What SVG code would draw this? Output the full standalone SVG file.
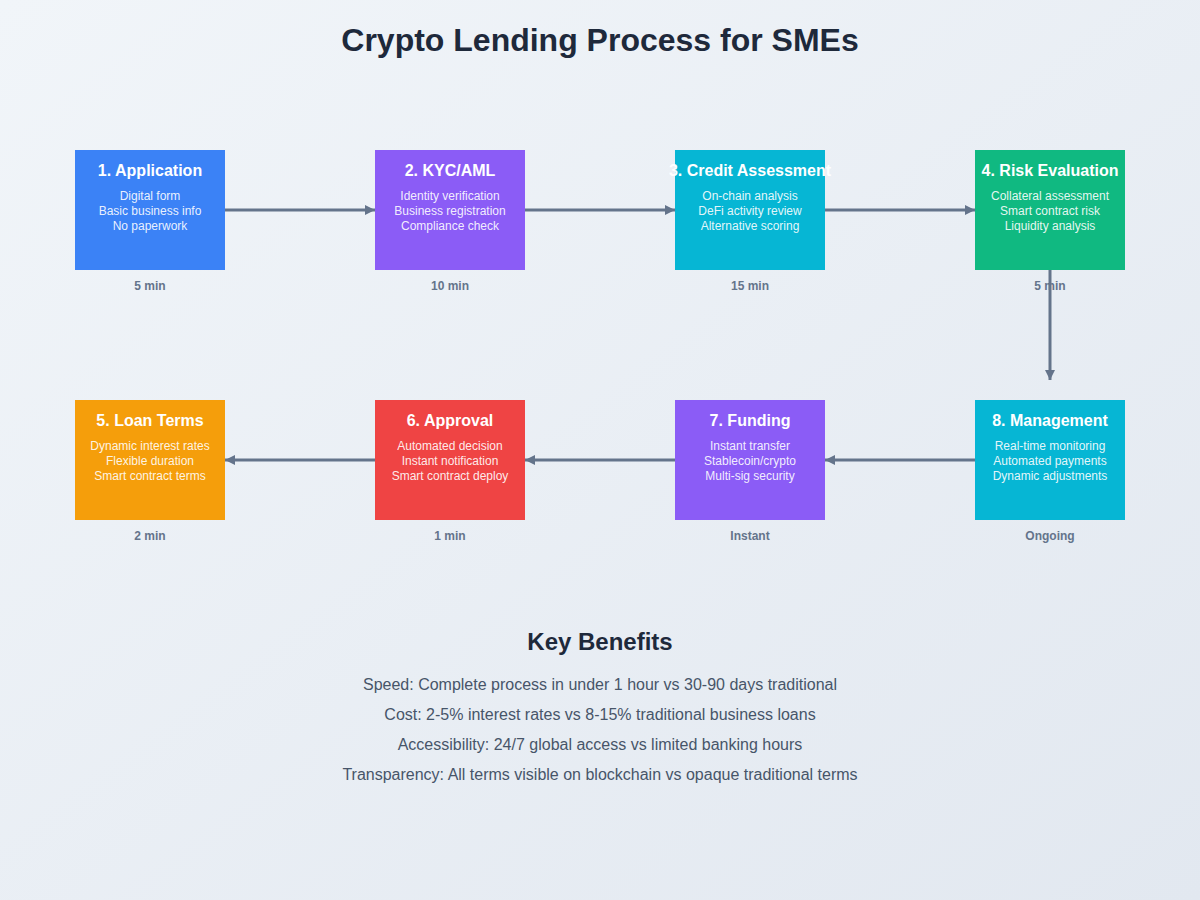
<svg xmlns="http://www.w3.org/2000/svg" width="1200" height="900" viewBox="0 0 1200 900">
<defs>
<linearGradient id="bg" x1="0" y1="0" x2="1" y2="1">
<stop offset="0" stop-color="#f1f5f9"/>
<stop offset="1" stop-color="#e2e8f0"/>
</linearGradient>
<marker id="arr" viewBox="0 0 10 10" refX="10" refY="5" markerWidth="10" markerHeight="10" markerUnits="userSpaceOnUse" orient="auto">
<path d="M0,0 L10,5 L0,10 z" fill="#64748b"/>
</marker>
</defs>
<style>
text{font-family:"Liberation Sans",Arial,sans-serif;text-anchor:middle}
.h{font-size:32px;font-weight:bold;fill:#1e293b}
.t{font-size:16px;font-weight:bold;fill:#ffffff}
.b{font-size:12px;fill:#ffffff;fill-opacity:0.9}
.m{font-size:12px;font-weight:bold;fill:#64748b}
.k{font-size:24px;font-weight:bold;fill:#1e293b}
.l{font-size:16px;fill:#475569}
.c{stroke:#64748b;stroke-width:3;fill:none;marker-end:url(#arr)}
</style>
<rect width="1200" height="900" fill="url(#bg)"/>
<text class="h" x="600" y="51">Crypto Lending Process for SMEs</text>
<g id="connectors">
<line class="c" x1="225" y1="210" x2="375" y2="210"/>
<line class="c" x1="525" y1="210" x2="675" y2="210"/>
<line class="c" x1="825" y1="210" x2="975" y2="210"/>
<line class="c" x1="1050" y1="270" x2="1050" y2="380"/>
<line class="c" x1="975" y1="460" x2="825" y2="460"/>
<line class="c" x1="675" y1="460" x2="525" y2="460"/>
<line class="c" x1="375" y1="460" x2="225" y2="460"/>
</g>
<g id="n1">
<rect x="75" y="150" width="150" height="120" fill="#3b82f6"/>
<text class="t" x="150" y="176">1. Application</text>
<text class="b" x="150" y="200">Digital form</text>
<text class="b" x="150" y="215">Basic business info</text>
<text class="b" x="150" y="230">No paperwork</text>
<text class="m" x="150" y="290">5 min</text>
</g>
<g id="n2">
<rect x="375" y="150" width="150" height="120" fill="#8b5cf6"/>
<text class="t" x="450" y="176">2. KYC/AML</text>
<text class="b" x="450" y="200">Identity verification</text>
<text class="b" x="450" y="215">Business registration</text>
<text class="b" x="450" y="230">Compliance check</text>
<text class="m" x="450" y="290">10 min</text>
</g>
<g id="n3">
<rect x="675" y="150" width="150" height="120" fill="#06b6d4"/>
<text class="t" x="750" y="176">3. Credit Assessment</text>
<text class="b" x="750" y="200">On-chain analysis</text>
<text class="b" x="750" y="215">DeFi activity review</text>
<text class="b" x="750" y="230">Alternative scoring</text>
<text class="m" x="750" y="290">15 min</text>
</g>
<g id="n4">
<rect x="975" y="150" width="150" height="120" fill="#10b981"/>
<text class="t" x="1050" y="176">4. Risk Evaluation</text>
<text class="b" x="1050" y="200">Collateral assessment</text>
<text class="b" x="1050" y="215">Smart contract risk</text>
<text class="b" x="1050" y="230">Liquidity analysis</text>
<text class="m" x="1050" y="290">5 min</text>
</g>
<g id="n5">
<rect x="75" y="400" width="150" height="120" fill="#f59e0b"/>
<text class="t" x="150" y="426">5. Loan Terms</text>
<text class="b" x="150" y="450">Dynamic interest rates</text>
<text class="b" x="150" y="465">Flexible duration</text>
<text class="b" x="150" y="480">Smart contract terms</text>
<text class="m" x="150" y="540">2 min</text>
</g>
<g id="n6">
<rect x="375" y="400" width="150" height="120" fill="#ef4444"/>
<text class="t" x="450" y="426">6. Approval</text>
<text class="b" x="450" y="450">Automated decision</text>
<text class="b" x="450" y="465">Instant notification</text>
<text class="b" x="450" y="480">Smart contract deploy</text>
<text class="m" x="450" y="540">1 min</text>
</g>
<g id="n7">
<rect x="675" y="400" width="150" height="120" fill="#8b5cf6"/>
<text class="t" x="750" y="426">7. Funding</text>
<text class="b" x="750" y="450">Instant transfer</text>
<text class="b" x="750" y="465">Stablecoin/crypto</text>
<text class="b" x="750" y="480">Multi-sig security</text>
<text class="m" x="750" y="540">Instant</text>
</g>
<g id="n8">
<rect x="975" y="400" width="150" height="120" fill="#06b6d4"/>
<text class="t" x="1050" y="426">8. Management</text>
<text class="b" x="1050" y="450">Real-time monitoring</text>
<text class="b" x="1050" y="465">Automated payments</text>
<text class="b" x="1050" y="480">Dynamic adjustments</text>
<text class="m" x="1050" y="540">Ongoing</text>
</g>
<g id="benefits">
<text class="k" x="600" y="650">Key Benefits</text>
<text class="l" x="600" y="690">Speed: Complete process in under 1 hour vs 30-90 days traditional</text>
<text class="l" x="600" y="720">Cost: 2-5% interest rates vs 8-15% traditional business loans</text>
<text class="l" x="600" y="750">Accessibility: 24/7 global access vs limited banking hours</text>
<text class="l" x="600" y="780">Transparency: All terms visible on blockchain vs opaque traditional terms</text>
</g>
</svg>
